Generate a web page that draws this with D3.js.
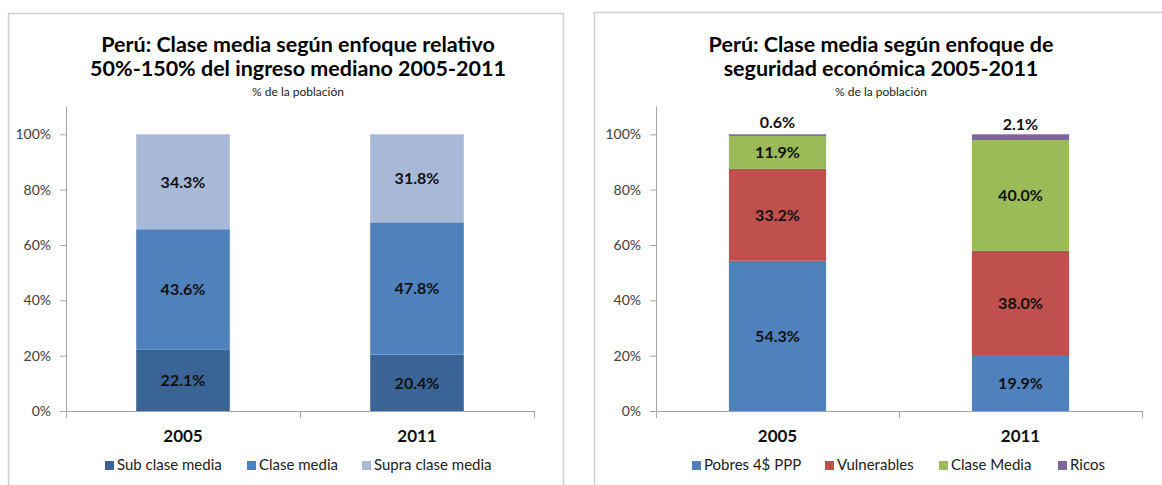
<!DOCTYPE html>
<html><head><meta charset="utf-8">
<script src="https://cdn.jsdelivr.net/npm/d3@7"></script>
<style>
html,body{margin:0;padding:0;background:#fff;}
svg{display:block;font-family:Lato,"Open Sans",sans-serif;}
</style></head>
<body>
<svg id="c" width="1162" height="485"></svg>
<script>
// ---- data ----
const years = ["2005", "2011"];
const yTicks = [0, 0.2, 0.4, 0.6, 0.8, 1.0];

const leftSeries = ["Sub clase media", "Clase media", "Supra clase media"];
const leftColors = ["#3B6496", "#4F81BD", "#A8B9D8"];
const subClase = [22.1, 20.4];
const claseMediaRel = [43.6, 47.8];
const supraClase = [34.3, 31.8];

const rightSeries = ["Pobres 4$ PPP", "Vulnerables", "Clase Media", "Ricos"];
const rightColors = ["#4F81BD", "#C0504D", "#9BBB59", "#8064A2"];
const pobres = [54.3, 19.9];
const vulnerables = [33.2, 38.0];
const claseMediaSeg = [11.9, 40.0];
const ricos = [0.6, 2.1];

const leftTitle = ["Perú: Clase media según enfoque relativo", "50%-150% del ingreso mediano 2005-2011"];
const rightTitle = ["Perú: Clase media según enfoque de", "seguridad económica 2005-2011"];
const subtitle = "% de la población";

const svg = d3.select("#c");

function panel(cfg) {
  const g = svg.append("g");
  // border
  g.append("rect").attr("x", cfg.box[0] + 0.5).attr("y", cfg.box[1] + 0.5)
    .attr("width", cfg.box[2]).attr("height", cfg.box[3])
    .attr("fill", "#fff").attr("stroke", "#D0D0D0").attr("stroke-width", 1.5);

  // titles
  cfg.title.forEach((t, i) => {
    g.append("text").attr("x", cfg.titleX).attr("y", 52 + i * 24)
      .attr("text-anchor", "middle").attr("font-weight", "bold")
      .attr("font-size", 21.5).attr("fill", "#000").text(t);
  });
  g.append("text").attr("x", cfg.titleX).attr("y", 96).attr("text-anchor", "middle")
    .attr("font-size", 12).attr("fill", "#222").text(subtitle);

  const x = d3.scaleBand().domain(years).range([cfg.x0, cfg.x1]).padding(0);
  const y = d3.scaleLinear().domain([0, 1.1]).range([411, 411 - 1.1 * 276.7]);

  // stacked data
  const rows = years.map((yr, i) => {
    const o = { year: yr };
    cfg.series.forEach((s, k) => o[s] = cfg.values[k][i] / 100);
    return o;
  });
  const stack = d3.stack().keys(cfg.series)(rows);
  const bw = x.bandwidth() * 0.4;

  stack.forEach((layer, k) => {
    g.selectAll(null).data(layer).enter().append("rect")
      .attr("x", d => x(d.data.year) + (x.bandwidth() - bw) / 2)
      .attr("width", bw)
      .attr("y", d => y(d[1]))
      .attr("height", d => y(d[0]) - y(d[1]))
      .attr("fill", cfg.colors[k]);
  });
  // labels
  stack.forEach((layer, k) => {
    g.selectAll(null).data(layer).enter().append("text")
      .attr("x", d => x(d.data.year) + x.bandwidth() / 2)
      .attr("y", d => {
        const mid = y((d[0] + d[1]) / 2);
        return (d[1] - d[0] < 0.05) ? mid - 12.5 : mid;
      })
      .attr("dy", "0.36em")
      .attr("text-anchor", "middle").attr("font-weight", "bold")
      .attr("font-size", 16).attr("fill", "#111")
      .text(d => d3.format(".1f")((d[1] - d[0]) * 100) + "%");
  });

  // y axis
  const ya = g.append("g").attr("transform", `translate(${cfg.x0},0)`)
    .call(d3.axisLeft(y).tickValues(yTicks).tickFormat(d3.format(".0%")).tickSize(6).tickPadding(9));
  ya.select(".domain").attr("stroke", "#A6A6A6").attr("d", `M0.5,${y(1.1)}V${y(0)}`);
  ya.selectAll(".tick line").attr("stroke", "#A6A6A6");
  ya.selectAll(".tick text").attr("font-size", 14).attr("fill", "#404040")
    .attr("font-family", "Lato, sans-serif");

  // x axis
  const xa = g.append("g").attr("transform", `translate(0,${y(0)})`)
    .call(d3.axisBottom(x).tickSize(0).tickPadding(19));
  xa.select(".domain").attr("stroke", "#A6A6A6");
  xa.selectAll(".tick text").attr("font-size", 17).attr("font-weight", "bold")
    .attr("fill", "#111").attr("font-family", "Lato, sans-serif");
  const bounds = years.map(d => x(d)).concat([x.range()[1]]);
  xa.selectAll(null).data(bounds).enter().append("line")
    .attr("x1", d => d + 0.5).attr("x2", d => d + 0.5).attr("y1", 0).attr("y2", 7)
    .attr("stroke", "#A6A6A6");

  // legend
  cfg.series.forEach((s, k) => {
    const lx = cfg.legendX[k];
    g.append("rect").attr("x", lx).attr("y", 461).attr("width", 9).attr("height", 9)
      .attr("fill", cfg.colors[k]);
    g.append("text").attr("x", lx + 12).attr("y", 465).attr("dy", "0.36em")
      .attr("font-size", 15).attr("fill", "#222").text(s);
  });
}

panel({
  box: [8, 13, 555, 480], titleX: 298, title: leftTitle,
  x0: 66, x1: 534, series: leftSeries, colors: leftColors,
  values: [subClase, claseMediaRel, supraClase],
  legendX: [105, 247, 362]
});
panel({
  box: [594, 12, 580, 480], titleX: 881, title: rightTitle,
  x0: 656, x1: 1142, series: rightSeries, colors: rightColors,
  values: [pobres, vulnerables, claseMediaSeg, ricos],
  legendX: [692, 825, 939, 1058]
});
</script>
</body></html>
